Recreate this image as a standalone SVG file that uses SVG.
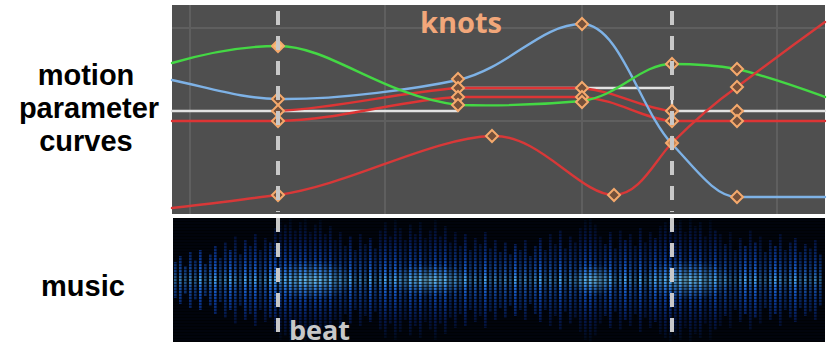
<svg xmlns="http://www.w3.org/2000/svg" xmlns:xlink="http://www.w3.org/1999/xlink" width="830" height="349" viewBox="0 0 830 349">
<style>
.lbl{font-family:"Liberation Sans",Arial,sans-serif;font-weight:bold;font-size:29px;fill:#000;text-anchor:middle}
.grid{stroke:#5f5f5f;stroke-width:2;fill:none}
.crv{fill:none;stroke-width:2.4;stroke-linecap:round;stroke-linejoin:round}
.knot{fill:#74503a;stroke:#f5a96c;stroke-width:2}
.beat{stroke:#c8c8c8;stroke-width:4;stroke-dasharray:14 11;fill:none}
.bars rect{fill:url(#barg);width:2.6px}
.o2{opacity:.75}.o3{opacity:.55}
</style>
<defs>
<path id="dia" d="M0,-6 L6,0 L0,6 L-6,0 Z"/>
<linearGradient id="barg" gradientUnits="userSpaceOnUse" x1="0" y1="218" x2="0" y2="342">
<stop offset="0" stop-color="#000814"/>
<stop offset="0.18" stop-color="#04164a"/>
<stop offset="0.34" stop-color="#0b3a96"/>
<stop offset="0.44" stop-color="#1f66d0"/>
<stop offset="0.5" stop-color="#4aa6e6"/>
<stop offset="0.56" stop-color="#1f66d0"/>
<stop offset="0.66" stop-color="#0b3a96"/>
<stop offset="0.82" stop-color="#04164a"/>
<stop offset="1" stop-color="#000814"/>
</linearGradient>
<radialGradient id="glow">
<stop offset="0" stop-color="#8fdcee" stop-opacity="0.4"/>
<stop offset="1" stop-color="#4aa6e6" stop-opacity="0"/>
</radialGradient>
<pattern id="stripes" width="6" height="3" patternUnits="userSpaceOnUse">
<rect x="0" y="2" width="6" height="1" fill="#000" opacity="0.55"/>
</pattern>
<clipPath id="mclip"><rect x="173" y="218" width="652" height="124"/></clipPath>
</defs>
<rect width="830" height="349" fill="#fff"/>

<g id="labels">
<text class="lbl" x="86" y="85">motion</text>
<text class="lbl" x="89" y="118">parameter</text>
<text class="lbl" x="86" y="151">curves</text>
<text class="lbl" x="83" y="296">music</text>
</g>

<g id="curve-panel">
<rect x="172" y="5" width="653" height="209" fill="#4f4f4f"/>
<g class="grid">
<line x1="190" y1="5" x2="190" y2="214"/>
<line x1="385" y1="5" x2="385" y2="214"/>
<line x1="582" y1="5" x2="582" y2="214"/>
<line x1="777" y1="5" x2="777" y2="214"/>
<line x1="172" y1="28" x2="825" y2="28"/>
<line x1="172" y1="121" x2="825" y2="121"/>
</g>
</g>

<g id="music-panel" clip-path="url(#mclip)">
<rect x="173" y="218" width="652" height="124" fill="#01040c"/>
<g class="bars">
<rect x="174" y="262" height="36" class="o3"/><rect x="179" y="256" height="48" class="o2"/><rect x="184" y="266" height="28" class="o3"/><rect x="189" y="252" height="56" class="o2"/><rect x="194" y="260" height="40" class="o3"/><rect x="199" y="250" height="60"/><rect x="204" y="264" height="32" class="o3"/><rect x="209" y="254" height="52" class="o2"/><rect x="214" y="246" height="68"/><rect x="219" y="258" height="44" class="o3"/>
<rect x="224" y="242" height="76" class="o2"/><rect x="229" y="250" height="60"/><rect x="234" y="236" height="88" class="o2"/><rect x="239" y="254" height="52" class="o3"/><rect x="244" y="240" height="80"/><rect x="249" y="246" height="68" class="o2"/><rect x="254" y="234" height="92"/><rect x="259" y="250" height="60" class="o3"/><rect x="264" y="238" height="84" class="o2"/><rect x="269" y="242" height="76"/>
<rect x="274" y="228" height="104"/><rect x="279" y="220" height="120" class="o2"/><rect x="284" y="224" height="112"/><rect x="289" y="218" height="124"/><rect x="294" y="230" height="100" class="o2"/><rect x="299" y="222" height="116"/><rect x="304" y="218" height="124"/><rect x="309" y="232" height="96" class="o2"/><rect x="314" y="224" height="112"/><rect x="319" y="220" height="120"/>
<rect x="324" y="234" height="92" class="o2"/><rect x="329" y="226" height="108"/><rect x="334" y="240" height="80" class="o3"/><rect x="339" y="232" height="96" class="o2"/><rect x="344" y="246" height="68" class="o3"/><rect x="349" y="236" height="88"/><rect x="354" y="250" height="60" class="o3"/><rect x="359" y="234" height="92" class="o2"/><rect x="364" y="244" height="72" class="o3"/><rect x="369" y="238" height="84"/>
<rect x="374" y="248" height="64" class="o3"/><rect x="379" y="230" height="100" class="o2"/><rect x="384" y="222" height="116"/><rect x="389" y="236" height="88" class="o2"/><rect x="394" y="220" height="120"/><rect x="399" y="228" height="104" class="o2"/><rect x="404" y="240" height="80" class="o3"/><rect x="409" y="224" height="112"/><rect x="414" y="234" height="92" class="o2"/><rect x="419" y="222" height="116"/>
<rect x="424" y="238" height="84" class="o3"/><rect x="429" y="230" height="100" class="o2"/><rect x="434" y="220" height="120"/><rect x="439" y="236" height="88" class="o2"/><rect x="444" y="226" height="108"/><rect x="449" y="242" height="76" class="o3"/><rect x="454" y="232" height="96" class="o2"/><rect x="459" y="246" height="68" class="o3"/><rect x="464" y="234" height="92"/><rect x="469" y="250" height="60" class="o3"/>
<rect x="474" y="238" height="84" class="o2"/><rect x="479" y="244" height="72" class="o3"/><rect x="484" y="232" height="96"/><rect x="489" y="248" height="64" class="o3"/><rect x="494" y="240" height="80" class="o2"/><rect x="499" y="252" height="56" class="o3"/><rect x="504" y="242" height="76" class="o2"/><rect x="509" y="254" height="52" class="o3"/><rect x="514" y="244" height="72"/><rect x="519" y="250" height="60" class="o3"/>
<rect x="524" y="240" height="80" class="o2"/><rect x="529" y="256" height="48" class="o3"/><rect x="534" y="246" height="68" class="o2"/><rect x="539" y="238" height="84"/><rect x="544" y="250" height="60" class="o3"/><rect x="549" y="234" height="92" class="o2"/><rect x="554" y="244" height="72" class="o3"/><rect x="559" y="230" height="100"/><rect x="564" y="248" height="64" class="o3"/><rect x="569" y="236" height="88" class="o2"/>
<rect x="574" y="242" height="76" class="o3"/><rect x="579" y="228" height="104" class="o2"/><rect x="584" y="220" height="120"/><rect x="589" y="218" height="124"/><rect x="594" y="224" height="112" class="o2"/><rect x="599" y="236" height="88" class="o3"/><rect x="604" y="244" height="72" class="o2"/><rect x="609" y="232" height="96"/><rect x="614" y="248" height="64" class="o3"/><rect x="619" y="230" height="100" class="o2"/>
<rect x="624" y="240" height="80"/><rect x="629" y="234" height="92" class="o2"/><rect x="634" y="246" height="68" class="o3"/><rect x="639" y="228" height="104"/><rect x="644" y="242" height="76" class="o3"/><rect x="649" y="232" height="96" class="o2"/><rect x="654" y="238" height="84"/><rect x="659" y="226" height="108" class="o2"/><rect x="664" y="222" height="116"/><rect x="669" y="218" height="124"/>
<rect x="674" y="224" height="112" class="o2"/><rect x="679" y="220" height="120"/><rect x="684" y="232" height="96" class="o3"/><rect x="689" y="218" height="124"/><rect x="694" y="226" height="108" class="o2"/><rect x="699" y="222" height="116"/><rect x="704" y="236" height="88" class="o3"/><rect x="709" y="220" height="120" class="o2"/><rect x="714" y="230" height="100"/><rect x="719" y="234" height="92" class="o3"/>
<rect x="724" y="244" height="72" class="o2"/><rect x="729" y="232" height="96" class="o3"/><rect x="734" y="250" height="60" class="o3"/><rect x="739" y="238" height="84" class="o2"/><rect x="744" y="246" height="68"/><rect x="749" y="230" height="100" class="o2"/><rect x="754" y="242" height="76"/><rect x="759" y="236" height="88" class="o3"/><rect x="764" y="252" height="56" class="o3"/><rect x="769" y="240" height="80" class="o2"/>
<rect x="774" y="246" height="68"/><rect x="779" y="234" height="92" class="o2"/><rect x="784" y="250" height="60" class="o3"/><rect x="789" y="242" height="76" class="o2"/><rect x="794" y="238" height="84"/><rect x="799" y="252" height="56" class="o3"/><rect x="804" y="244" height="72" class="o2"/><rect x="809" y="248" height="64" class="o3"/><rect x="814" y="240" height="80" class="o2"/><rect x="819" y="254" height="52" class="o3"/>
</g>
<ellipse cx="312" cy="280" rx="45" ry="20" fill="url(#glow)"/>
<ellipse cx="430" cy="280" rx="45" ry="16" fill="url(#glow)"/>
<ellipse cx="594" cy="280" rx="24" ry="16" fill="url(#glow)"/>
<ellipse cx="688" cy="280" rx="45" ry="20" fill="url(#glow)"/>
<rect x="173" y="218" width="652" height="124" fill="url(#stripes)"/>
</g>

<g id="curves">
<path class="crv" stroke="#e2e2e2" d="M172,111 L458,111 L458,88 L672,88 L672,111 L825,111"/>
<path class="crv" stroke="#dd3535" d="M172,121 L278,121 C340,120 400,100 458,97 L582,97 C620,100 640,118 672,121 L825,121"/>
<path class="crv" stroke="#dd3535" d="M278,111 C340,108 400,92 458,88 L582,88 C620,92 640,108 672,111"/>
<path class="crv" stroke="#7eb2e6" d="M172,80 C210,88 245,99 278,99 C340,100 420,88 458,80 C510,68 540,24 582,24 C620,24 640,110 672,144 C695,168 715,197 737,197 L825,197"/>
<path class="crv" stroke="#44d844" d="M172,63 C210,52 245,46 278,46 C330,46 380,95 458,105 C500,106 550,104 582,101 C620,96 640,64 672,64 C700,64 720,66 737,69 C770,77 800,88 825,97"/>
<path class="crv" stroke="#d83838" d="M172,208 C210,204 245,199 278,195 C350,185 430,138 492,136 C540,134 580,195 614,195 C640,195 655,160 672,143 C700,115 720,99 737,87 C770,62 800,40 825,22"/>
</g>

<g id="knots">
<use href="#dia" x="278" y="46" class="knot" style="fill:#f2c07a"/>
<use href="#dia" x="278" y="99" class="knot"/>
<use href="#dia" x="278" y="111" class="knot"/>
<use href="#dia" x="278" y="121" class="knot"/>
<use href="#dia" x="278" y="195" class="knot"/>
<use href="#dia" x="458" y="79" class="knot"/>
<use href="#dia" x="458" y="88" class="knot"/>
<use href="#dia" x="458" y="97" class="knot"/>
<use href="#dia" x="458" y="105" class="knot"/>
<use href="#dia" x="492" y="136" class="knot"/>
<use href="#dia" x="582" y="24" class="knot"/>
<use href="#dia" x="582" y="88" class="knot"/>
<use href="#dia" x="582" y="97" class="knot"/>
<use href="#dia" x="582" y="102" class="knot"/>
<use href="#dia" x="614" y="195" class="knot"/>
<use href="#dia" x="672" y="64" class="knot"/>
<use href="#dia" x="672" y="111" class="knot"/>
<use href="#dia" x="672" y="121" class="knot"/>
<use href="#dia" x="672" y="143" class="knot" style="fill:#c88a58"/>
<use href="#dia" x="737" y="69" class="knot"/>
<use href="#dia" x="737" y="87" class="knot"/>
<use href="#dia" x="737" y="111" class="knot"/>
<use href="#dia" x="737" y="121" class="knot"/>
<use href="#dia" x="737" y="197" class="knot"/>
</g>

<g id="beats">
<line class="beat" x1="278" y1="11" x2="278" y2="212"/>
<line class="beat" x1="672" y1="11" x2="672" y2="212"/>
<line class="beat" x1="278" y1="218" x2="278" y2="340"/>
<line class="beat" x1="672" y1="218" x2="672" y2="340"/>
</g>

<g id="annotations">
<text x="461" y="33" style="font-family:'Open Sans','DejaVu Sans',sans-serif;font-weight:bold;font-size:29px;fill:#f2a77a;text-anchor:middle">knots</text>
<text x="289" y="340" style="font-family:'Open Sans','DejaVu Sans',sans-serif;font-weight:bold;font-size:27px;fill:#c8c8c8">beat</text>
</g>
</svg>
